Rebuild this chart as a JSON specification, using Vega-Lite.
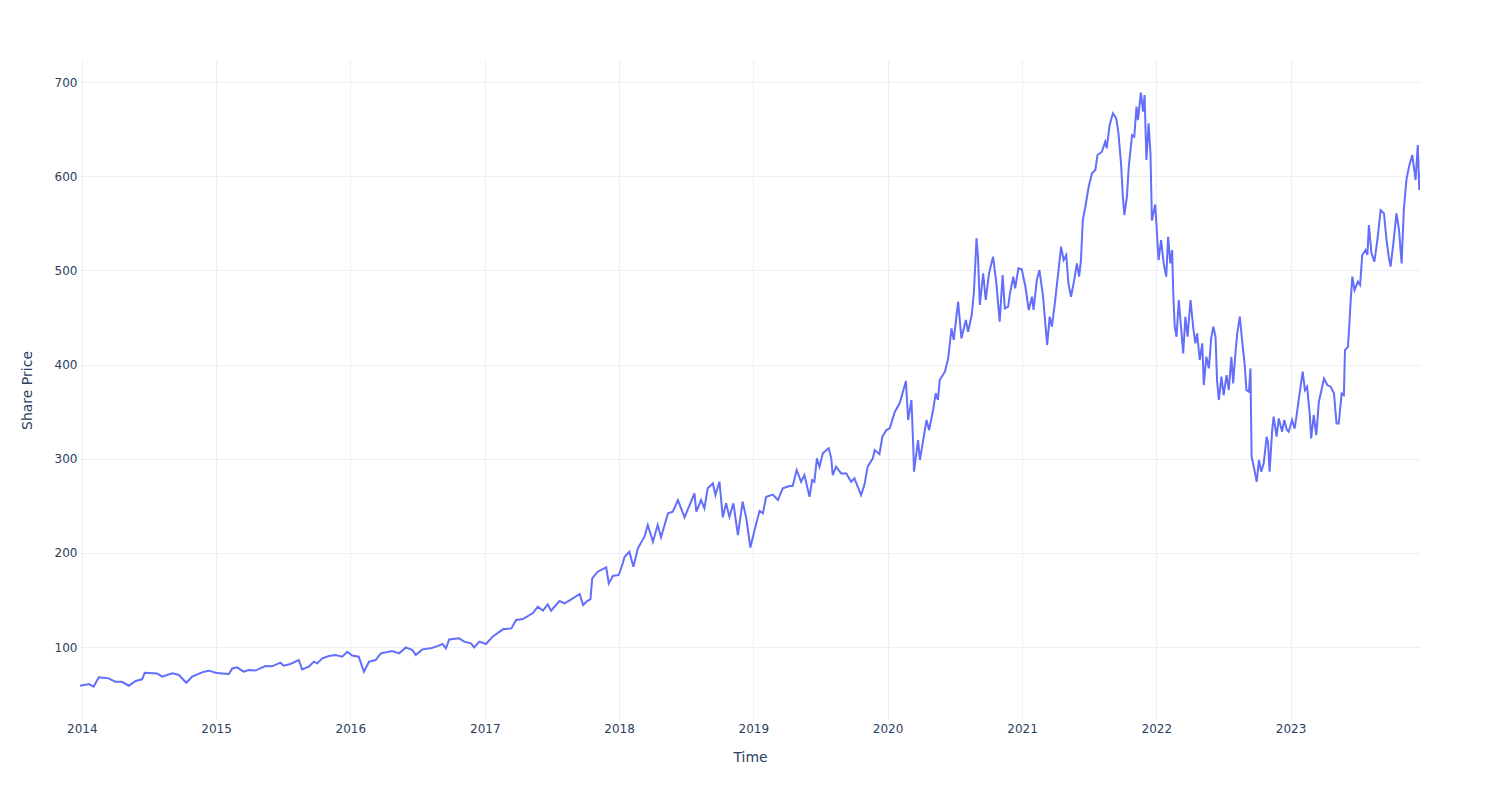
{
  "$schema": "https://vega.github.io/schema/vega-lite/v6.json",
  "width": 1340,
  "height": 660,
  "autosize": "none",
  "padding": {"left": 80, "top": 60, "right": 80, "bottom": 80},
  "background": "white",
  "config": {
    "view": {"stroke": null},
    "font": "DejaVu Sans"
  },
  "data": {"values": [
    {"d":"2013-12-27","v":58.9},{"d":"2014-01-20","v":60.7},{"d":"2014-02-02","v":57.9},{"d":"2014-02-16","v":67.8},{"d":"2014-03-15","v":66.7},{"d":"2014-04-02","v":63.2},{"d":"2014-04-20","v":63.0},{"d":"2014-05-09","v":58.9},{"d":"2014-05-27","v":63.9},{"d":"2014-06-14","v":65.7},{"d":"2014-06-21","v":72.7},{"d":"2014-07-25","v":72.0},{"d":"2014-08-07","v":68.5},{"d":"2014-09-04","v":72.0},{"d":"2014-09-22","v":70.3},{"d":"2014-10-12","v":62.1},{"d":"2014-10-28","v":68.5},{"d":"2014-11-29","v":73.8},{"d":"2014-12-13","v":74.9},{"d":"2014-12-31","v":72.7},
    {"d":"2015-01-17","v":72.0},{"d":"2015-02-05","v":71.3},{"d":"2015-02-14","v":77.3},{"d":"2015-02-27","v":78.4},{"d":"2015-03-17","v":73.8},{"d":"2015-03-31","v":75.6},{"d":"2015-04-18","v":75.0},{"d":"2015-05-15","v":79.8},{"d":"2015-06-02","v":79.5},{"d":"2015-06-25","v":83.4},{"d":"2015-07-04","v":80.2},{"d":"2015-07-22","v":82.0},{"d":"2015-08-14","v":86.2},{"d":"2015-08-23","v":76.3},{"d":"2015-09-10","v":79.1},{"d":"2015-09-24","v":84.4},{"d":"2015-10-03","v":82.7},{"d":"2015-10-17","v":88.0},{"d":"2015-11-04","v":90.4},{"d":"2015-11-22","v":91.5},{"d":"2015-12-10","v":89.7},{"d":"2015-12-24","v":95.0},
    {"d":"2016-01-06","v":91.0},{"d":"2016-01-24","v":89.7},{"d":"2016-02-07","v":73.8},{"d":"2016-02-21","v":84.4},{"d":"2016-03-10","v":86.2},{"d":"2016-03-24","v":93.3},{"d":"2016-04-24","v":95.8},{"d":"2016-05-13","v":93.3},{"d":"2016-05-31","v":99.6},{"d":"2016-06-18","v":96.8},{"d":"2016-06-27","v":91.5},{"d":"2016-07-15","v":97.5},{"d":"2016-08-07","v":98.6},{"d":"2016-08-25","v":101.0},{"d":"2016-09-08","v":103.2},{"d":"2016-09-17","v":98.6},{"d":"2016-09-26","v":108.1},{"d":"2016-10-23","v":109.2},{"d":"2016-11-06","v":105.7},{"d":"2016-11-24","v":103.9},{"d":"2016-12-03","v":99.6},{"d":"2016-12-17","v":105.7},
    {"d":"2017-01-04","v":103.2},{"d":"2017-01-22","v":111.0},{"d":"2017-02-19","v":118.8},{"d":"2017-03-14","v":119.8},{"d":"2017-03-27","v":128.7},{"d":"2017-04-14","v":129.7},{"d":"2017-05-11","v":135.8},{"d":"2017-05-25","v":142.8},{"d":"2017-06-08","v":138.6},{"d":"2017-06-21","v":145.3},{"d":"2017-06-30","v":138.6},{"d":"2017-07-23","v":148.8},{"d":"2017-08-06","v":146.4},{"d":"2017-08-24","v":150.6},{"d":"2017-09-16","v":156.3},{"d":"2017-09-25","v":144.6},{"d":"2017-10-06","v":148.8},{"d":"2017-10-15","v":150.6},{"d":"2017-10-20","v":173.0},{"d":"2017-11-04","v":180.0},{"d":"2017-11-27","v":184.6},{"d":"2017-12-04","v":167.6},{"d":"2017-12-15","v":175.4},{"d":"2017-12-31","v":176.5},
    {"d":"2018-01-11","v":188.9},{"d":"2018-01-16","v":195.9},{"d":"2018-01-29","v":201.2},{"d":"2018-02-09","v":185.3},{"d":"2018-02-21","v":204.8},{"d":"2018-03-11","v":217.2},{"d":"2018-03-20","v":229.5},{"d":"2018-04-03","v":211.8},{"d":"2018-04-16","v":229.5},{"d":"2018-04-25","v":216.5},{"d":"2018-05-14","v":242.0},{"d":"2018-05-27","v":243.7},{"d":"2018-06-10","v":256.1},{"d":"2018-06-28","v":237.7},{"d":"2018-07-25","v":263.2},{"d":"2018-07-30","v":243.7},{"d":"2018-08-12","v":256.1},{"d":"2018-08-21","v":247.3},{"d":"2018-08-30","v":268.5},{"d":"2018-09-13","v":273.8},{"d":"2018-09-20","v":261.4},{"d":"2018-10-01","v":275.5},{"d":"2018-10-10","v":237.7},{"d":"2018-10-19","v":252.6},{"d":"2018-10-28","v":238.4},{"d":"2018-11-08","v":252.6},{"d":"2018-11-20","v":218.9},{"d":"2018-12-03","v":254.3},{"d":"2018-12-13","v":236.7},{"d":"2018-12-24","v":205.6},
    {"d":"2019-01-05","v":225.0},{"d":"2019-01-18","v":244.6},{"d":"2019-01-27","v":242.0},{"d":"2019-02-05","v":259.6},{"d":"2019-02-23","v":261.8},{"d":"2019-03-09","v":256.1},{"d":"2019-03-22","v":268.5},{"d":"2019-04-09","v":271.0},{"d":"2019-04-18","v":271.0},{"d":"2019-04-29","v":288.0},{"d":"2019-05-11","v":275.5},{"d":"2019-05-20","v":282.6},{"d":"2019-06-03","v":259.6},{"d":"2019-06-10","v":277.3},{"d":"2019-06-16","v":275.5},{"d":"2019-06-23","v":300.4},{"d":"2019-06-30","v":291.5},{"d":"2019-07-09","v":305.7},{"d":"2019-07-25","v":311.0},{"d":"2019-08-01","v":300.4},{"d":"2019-08-05","v":282.6},{"d":"2019-08-14","v":291.5},{"d":"2019-08-28","v":284.4},{"d":"2019-09-11","v":284.4},{"d":"2019-09-24","v":275.5},{"d":"2019-10-03","v":279.1},{"d":"2019-10-12","v":270.2},{"d":"2019-10-21","v":261.4},{"d":"2019-10-30","v":272.0},{"d":"2019-11-08","v":291.5},{"d":"2019-11-22","v":300.4},{"d":"2019-11-27","v":309.2},{"d":"2019-12-10","v":304.8},{"d":"2019-12-18","v":323.4},{"d":"2019-12-29","v":330.4},
    {"d":"2020-01-07","v":332.2},{"d":"2020-01-21","v":349.9},{"d":"2020-02-03","v":358.8},{"d":"2020-02-12","v":371.2},{"d":"2020-02-20","v":382.5},{"d":"2020-02-26","v":341.1},{"d":"2020-03-06","v":362.3},{"d":"2020-03-11","v":312.7},{"d":"2020-03-13","v":286.2},{"d":"2020-03-24","v":319.8},{"d":"2020-03-29","v":298.6},{"d":"2020-04-07","v":319.8},{"d":"2020-04-16","v":341.1},{"d":"2020-04-23","v":330.4},{"d":"2020-05-04","v":351.7},{"d":"2020-05-11","v":369.4},{"d":"2020-05-17","v":362.3},{"d":"2020-05-22","v":383.5},{"d":"2020-06-05","v":392.4},{"d":"2020-06-14","v":406.6},{"d":"2020-06-23","v":438.4},{"d":"2020-06-29","v":426.0},{"d":"2020-07-11","v":466.7},{"d":"2020-07-20","v":427.8},{"d":"2020-08-01","v":447.3},{"d":"2020-08-07","v":434.8},{"d":"2020-08-17","v":452.6},{"d":"2020-08-23","v":477.3},{"d":"2020-08-30","v":534.0},{"d":"2020-09-03","v":514.5},{"d":"2020-09-08","v":463.2},{"d":"2020-09-17","v":496.8},{"d":"2020-09-24","v":468.5},{"d":"2020-10-03","v":496.8},{"d":"2020-10-14","v":514.5},{"d":"2020-10-23","v":486.2},{"d":"2020-11-01","v":445.4},{"d":"2020-11-09","v":495.0},{"d":"2020-11-15","v":459.6},{"d":"2020-11-24","v":461.4},{"d":"2020-11-29","v":475.6},{"d":"2020-12-08","v":493.3},{"d":"2020-12-13","v":480.9},{"d":"2020-12-22","v":502.1},{"d":"2020-12-31","v":501.1},
    {"d":"2021-01-10","v":482.6},{"d":"2021-01-19","v":457.9},{"d":"2021-01-28","v":472.0},{"d":"2021-02-01","v":457.9},{"d":"2021-02-10","v":489.7},{"d":"2021-02-17","v":500.3},{"d":"2021-02-27","v":472.0},{"d":"2021-03-10","v":420.7},{"d":"2021-03-17","v":450.8},{"d":"2021-03-23","v":440.2},{"d":"2021-04-01","v":468.5},{"d":"2021-04-10","v":500.3},{"d":"2021-04-17","v":525.1},{"d":"2021-04-24","v":510.9},{"d":"2021-05-01","v":516.3},{"d":"2021-05-07","v":486.2},{"d":"2021-05-14","v":472.0},{"d":"2021-05-21","v":486.2},{"d":"2021-05-30","v":507.4},{"d":"2021-06-05","v":493.3},{"d":"2021-06-10","v":510.9},{"d":"2021-06-15","v":553.4},{"d":"2021-06-22","v":567.6},{"d":"2021-07-01","v":588.8},{"d":"2021-07-10","v":603.0},{"d":"2021-07-19","v":606.6},{"d":"2021-07-25","v":622.5},{"d":"2021-08-06","v":626.0},{"d":"2021-08-15","v":636.6},{"d":"2021-08-19","v":629.6},{"d":"2021-08-27","v":654.3},{"d":"2021-09-05","v":666.8},{"d":"2021-09-14","v":661.4},{"d":"2021-09-20","v":645.5},{"d":"2021-09-27","v":613.6},{"d":"2021-10-02","v":578.2},{"d":"2021-10-06","v":558.8},{"d":"2021-10-13","v":578.2},{"d":"2021-10-18","v":610.1},{"d":"2021-10-27","v":643.7},{"d":"2021-11-02","v":641.9},{"d":"2021-11-08","v":673.8},{"d":"2021-11-12","v":659.6},{"d":"2021-11-20","v":688.7},{"d":"2021-11-26","v":668.5},{"d":"2021-11-30","v":686.2},{"d":"2021-12-05","v":617.2},{"d":"2021-12-11","v":656.1},{"d":"2021-12-16","v":624.3},{"d":"2021-12-20","v":553.0},{"d":"2021-12-29","v":570.0},
    {"d":"2022-01-07","v":510.9},{"d":"2022-01-14","v":532.2},{"d":"2022-01-21","v":507.4},{"d":"2022-01-28","v":493.3},{"d":"2022-02-02","v":535.7},{"d":"2022-02-08","v":507.4},{"d":"2022-02-13","v":521.6},{"d":"2022-02-16","v":475.6},{"d":"2022-02-20","v":440.2},{"d":"2022-02-25","v":429.5},{"d":"2022-03-03","v":468.5},{"d":"2022-03-15","v":411.9},{"d":"2022-03-21","v":450.8},{"d":"2022-03-27","v":429.5},{"d":"2022-04-04","v":468.5},{"d":"2022-04-11","v":440.2},{"d":"2022-04-17","v":422.5},{"d":"2022-04-22","v":433.1},{"d":"2022-04-29","v":404.8},{"d":"2022-05-06","v":422.5},{"d":"2022-05-10","v":378.2},{"d":"2022-05-17","v":408.3},{"d":"2022-05-24","v":395.9},{"d":"2022-05-30","v":427.8},{"d":"2022-06-05","v":440.2},{"d":"2022-06-11","v":429.5},{"d":"2022-06-15","v":383.5},{"d":"2022-06-20","v":362.3},{"d":"2022-06-27","v":387.1},{"d":"2022-07-03","v":367.6},{"d":"2022-07-11","v":388.8},{"d":"2022-07-17","v":372.9},{"d":"2022-07-24","v":408.3},{"d":"2022-07-29","v":380.0},{"d":"2022-08-04","v":411.9},{"d":"2022-08-09","v":433.1},{"d":"2022-08-16","v":450.8},{"d":"2022-08-23","v":422.5},{"d":"2022-08-29","v":401.3},{"d":"2022-09-03","v":372.9},{"d":"2022-09-10","v":371.2},{"d":"2022-09-14","v":395.9},{"d":"2022-09-17","v":302.1},{"d":"2022-09-23","v":291.5},{"d":"2022-10-01","v":275.5},{"d":"2022-10-07","v":298.6},{"d":"2022-10-13","v":286.2},{"d":"2022-10-20","v":295.1},{"d":"2022-10-28","v":323.4},{"d":"2022-11-01","v":316.3},{"d":"2022-11-05","v":286.2},{"d":"2022-11-12","v":330.4},{"d":"2022-11-16","v":344.6},{"d":"2022-11-24","v":323.4},{"d":"2022-11-30","v":342.8},{"d":"2022-12-09","v":328.7},{"d":"2022-12-15","v":341.1},{"d":"2022-12-22","v":330.4},{"d":"2022-12-27","v":328.7},
    {"d":"2023-01-05","v":341.1},{"d":"2023-01-12","v":332.0},{"d":"2023-01-17","v":344.6},{"d":"2023-01-23","v":362.3},{"d":"2023-02-03","v":392.4},{"d":"2023-02-09","v":372.9},{"d":"2023-02-15","v":376.5},{"d":"2023-02-22","v":348.2},{"d":"2023-02-26","v":321.6},{"d":"2023-03-05","v":346.4},{"d":"2023-03-12","v":325.1},{"d":"2023-03-19","v":360.5},{"d":"2023-04-02","v":385.3},{"d":"2023-04-11","v":378.2},{"d":"2023-04-20","v":376.5},{"d":"2023-04-29","v":369.4},{"d":"2023-05-06","v":337.5},{"d":"2023-05-12","v":337.5},{"d":"2023-05-20","v":369.4},{"d":"2023-05-26","v":367.6},{"d":"2023-05-29","v":415.4},{"d":"2023-06-06","v":418.9},{"d":"2023-06-09","v":436.6},{"d":"2023-06-13","v":465.0},{"d":"2023-06-18","v":493.3},{"d":"2023-06-24","v":479.1},{"d":"2023-07-03","v":487.9},{"d":"2023-07-09","v":484.4},{"d":"2023-07-15","v":516.3},{"d":"2023-07-24","v":521.6},{"d":"2023-07-29","v":516.3},{"d":"2023-08-02","v":548.2},{"d":"2023-08-09","v":518.1},{"d":"2023-08-17","v":509.2},{"d":"2023-08-25","v":532.2},{"d":"2023-09-03","v":564.0},{"d":"2023-09-12","v":560.5},{"d":"2023-09-19","v":532.2},{"d":"2023-09-25","v":514.5},{"d":"2023-09-30","v":503.9},{"d":"2023-10-07","v":526.9},{"d":"2023-10-16","v":560.5},{"d":"2023-10-23","v":542.8},{"d":"2023-10-30","v":507.4},{"d":"2023-11-05","v":564.0},{"d":"2023-11-12","v":595.9},{"d":"2023-11-19","v":610.1},{"d":"2023-11-28","v":622.5},{"d":"2023-12-07","v":595.9},{"d":"2023-12-13","v":633.1},{"d":"2023-12-17","v":585.3},{"d":"2023-12-19","v":603.0}
  ]},
  "mark": {"type": "line", "color": "#636efa", "strokeWidth": 2, "clip": true},
  "encoding": {
    "x": {
      "field": "d", "type": "temporal", "title": "Time",
      "scale": {"type": "utc", "nice": false},
      "axis": {
        "format": "%Y", "tickCount": {"interval": "year", "step": 1},
        "grid": true, "gridColor": "#ebf0f8", "gridWidth": 1,
        "domain": false, "ticks": false, "tickSize": 0,
        "labelPadding": 3, "labelFontSize": 12, "labelColor": "#2a3f5f", "labelFont": "DejaVu Sans",
        "labelAngle": 0, "labelFlush": false, "labelOverlap": false,
        "titleFontSize": 14, "titleFontWeight": "normal", "titleColor": "#2a3f5f", "titleFont": "DejaVu Sans",
        "titlePadding": 16
      }
    },
    "y": {
      "field": "v", "type": "quantitative", "title": "Share Price",
      "scale": {"domain": [22.5, 723.4], "nice": false, "zero": false},
      "axis": {
        "values": [100, 200, 300, 400, 500, 600, 700],
        "grid": true, "gridColor": "#ebf0f8", "gridWidth": 1,
        "domain": false, "ticks": false, "tickSize": 0,
        "labelPadding": 3, "labelFontSize": 12, "labelColor": "#2a3f5f", "labelFont": "DejaVu Sans",
        "titleFontSize": 14, "titleFontWeight": "normal", "titleColor": "#2a3f5f", "titleFont": "DejaVu Sans",
        "titlePadding": 20
      }
    }
  }
}
